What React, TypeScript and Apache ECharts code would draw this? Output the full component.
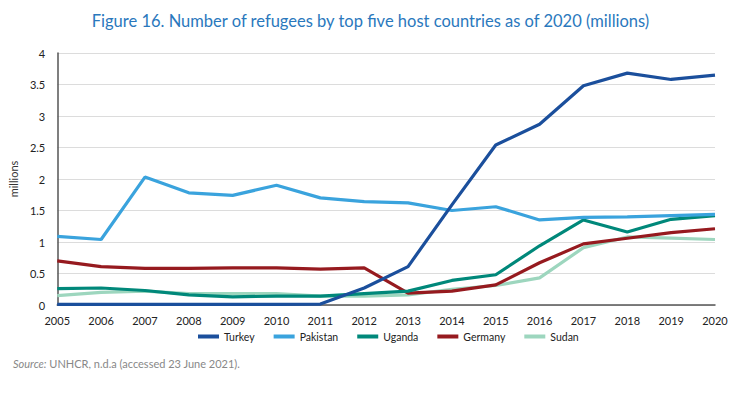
import React, { useEffect, useRef } from "react";
import * as echarts from "echarts";

const years = ["2005","2006","2007","2008","2009","2010","2011","2012","2013","2014","2015","2016","2017","2018","2019","2020"];
const turkey = [0.01,0.01,0.01,0.01,0.01,0.01,0.015,0.27,0.61,1.59,2.54,2.87,3.48,3.68,3.58,3.65];
const pakistan = [1.09,1.04,2.03,1.78,1.74,1.90,1.70,1.64,1.62,1.50,1.56,1.35,1.39,1.40,1.42,1.44];
const uganda = [0.26,0.27,0.23,0.16,0.13,0.14,0.14,0.18,0.22,0.39,0.48,0.94,1.35,1.16,1.36,1.42];
const germany = [0.70,0.61,0.58,0.58,0.59,0.59,0.57,0.59,0.19,0.22,0.32,0.67,0.97,1.06,1.15,1.21];
const sudan = [0.15,0.20,0.22,0.18,0.18,0.18,0.14,0.14,0.16,0.25,0.31,0.43,0.91,1.08,1.06,1.04];
const seriesNames = ["Turkey","Pakistan","Uganda","Germany","Sudan"];
const colors = ["#1b4f9c","#3aa3dd","#00887a","#961a1f","#9dd6be"];

export default function App() {
  const ref = useRef<HTMLDivElement>(null);
  useEffect(() => {
    const chart = echarts.init(ref.current!, undefined, { renderer: "svg" });
    const data = [turkey, pakistan, uganda, germany, sudan];
    chart.setOption({
      animation: false,
      textStyle: { fontFamily: "Lato" },
      title: {
        text: "Figure 16. Number of refugees by top five host countries as of 2020 (millions)",
        left: "center",
        top: 7,
        textStyle: { color: "#2a78bd", fontSize: 16.5, fontWeight: "normal", fontFamily: "Lato" },
      },
      grid: { left: 43, right: 26, top: 53, bottom: 90 },
      legend: {
        data: seriesNames,
        bottom: 48,
        left: 193,
        itemWidth: 21,
        itemHeight: 4,
        itemGap: 19,
        icon: "rect",
        textStyle: { color: "#222", fontSize: 10.5, fontFamily: "Lato" },
      },
      xAxis: {
        type: "category",
        data: years,
        boundaryGap: false,
        axisLine: { lineStyle: { color: "#555", width: 1.5 } },
        axisTick: { show: false },
        axisLabel: { color: "#222", fontSize: 11, margin: 10, fontFamily: "Lato" },
      },
      yAxis: {
        type: "value",
        min: 0,
        max: 4,
        interval: 0.5,
        name: "millions",
        nameLocation: "middle",
        nameGap: 29,
        nameTextStyle: { color: "#333", fontSize: 11, fontFamily: "Lato" },
        axisLine: { show: true, lineStyle: { color: "#555", width: 1.5 } },
        axisTick: { show: false },
        axisLabel: { color: "#222", fontSize: 11, margin: 12, fontFamily: "Lato" },
        splitLine: { lineStyle: { color: "#dcdcdc", width: 1.2 } },
      },
      series: seriesNames.map((n, i) => ({
        name: n,
        type: "line",
        data: data[i],
        showSymbol: false,
        symbol: "none",
        lineStyle: { color: colors[i], width: 3.2 },
        itemStyle: { color: colors[i] },
        z: 10 - i,
      })),
      graphic: [
        {
          type: "text",
          left: 13,
          top: 358,
          style: {
            text: "{i|Source:} UNHCR, n.d.a (accessed 23 June 2021).",
            fill: "#888",
            fontSize: 11,
            fontFamily: "Lato",
            rich: { i: { fontStyle: "italic", fill: "#888", fontSize: 11, fontFamily: "Lato" } },
          },
        },
      ],
    });
    return () => chart.dispose();
  }, []);
  return <div ref={ref} style={{ width: 741, height: 395, position: "absolute", left: 0, top: 0 }} />;
}
